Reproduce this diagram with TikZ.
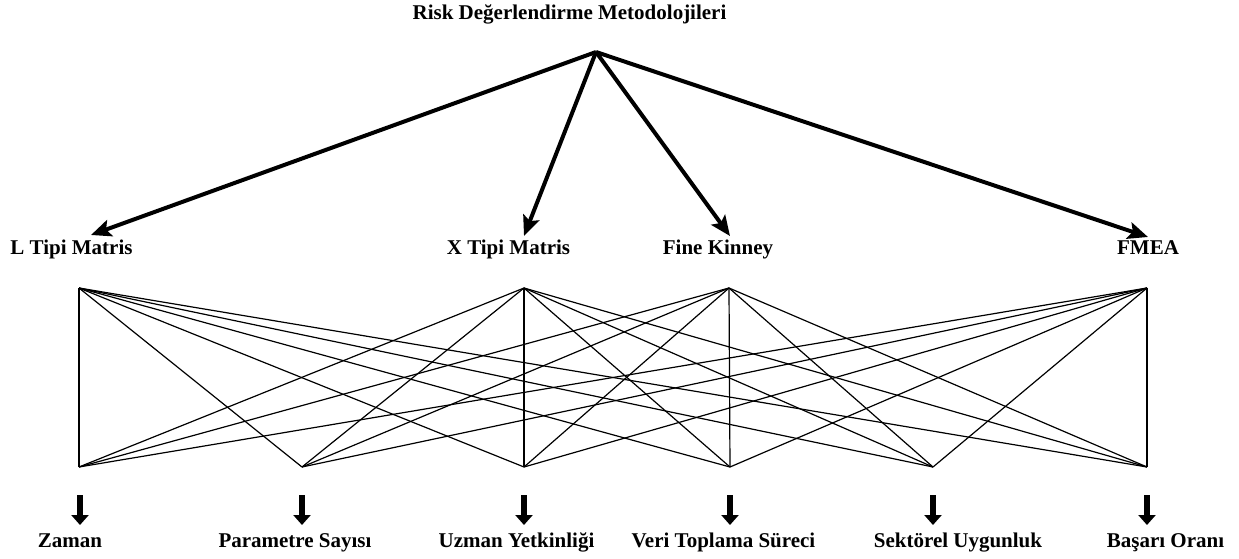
\documentclass[tikz,border=0pt]{standalone}
\usepackage{fontspec}
\setmainfont{Liberation Serif}
\usetikzlibrary{arrows.meta}
\begin{document}
\begin{tikzpicture}[x=0.5pt,y=-0.5pt,
  lbl/.style={font=\fontsize{10.5}{12}\selectfont\bfseries, inner sep=0pt, anchor=base},
  edge/.style={line width=0.6pt},
  bigarrow/.style={line width=2pt, -{Stealth[length=10pt,width=8.5pt,inset=2pt]}},
  downarrow/.style={line width=3.2pt, -{Triangle[length=5pt,width=8.5pt]}}]
\useasboundingbox (0,0) rectangle (1239,558);
% title and apex
\node[lbl] (title) at (569.5,19) {Risk Değerlendirme Metodolojileri};
\coordinate (apex) at (596,52);
% method labels
\node[lbl] (mL) at (71.5,254) {L Tipi Matris};
\node[lbl] (mX) at (508.5,254) {X Tipi Matris};
\node[lbl] (mF) at (718,254) {Fine Kinney};
\node[lbl] (mM) at (1148,254) {FMEA};
\coordinate (tL) at (91,235);
\coordinate (tX) at (524,236);
\coordinate (tF) at (730,236);
\coordinate (tM) at (1148,237);
\foreach \t in {tL,tX,tF,tM} \draw[bigarrow] (apex) -- (\t);
% bipartite graph points
\coordinate (T1) at (79,288);
\coordinate (T2) at (524,288);
\coordinate (T3) at (729,288);
\coordinate (T4) at (1147,288);
\coordinate (B1) at (79,467);
\coordinate (B2) at (302,467);
\coordinate (B3) at (524,467);
\coordinate (B4) at (730,467);
\coordinate (B5) at (933,467);
\coordinate (B6) at (1147,467);
\foreach \i in {1,...,4} \foreach \j in {1,...,6} \draw[edge] (T\i) -- (B\j);
% down arrows
\foreach \j/\x in {1/80,2/302,3/524,4/730,5/933,6/1147} {
  \coordinate (s\j) at (\x,495);
  \coordinate (e\j) at (\x,525);
  \draw[downarrow] (s\j) -- (e\j);
}
% criteria labels
\node[lbl] (c1) at (70,547) {Zaman};
\node[lbl] (c2) at (295,547) {Parametre Sayısı};
\node[lbl] (c3) at (516.5,547) {Uzman Yetkinliği};
\node[lbl] (c4) at (723.5,547) {Veri Toplama Süreci};
\node[lbl] (c5) at (958,547) {Sektörel Uygunluk};
\node[lbl] (c6) at (1165.5,547) {Başarı Oranı};
\end{tikzpicture}
\end{document}
